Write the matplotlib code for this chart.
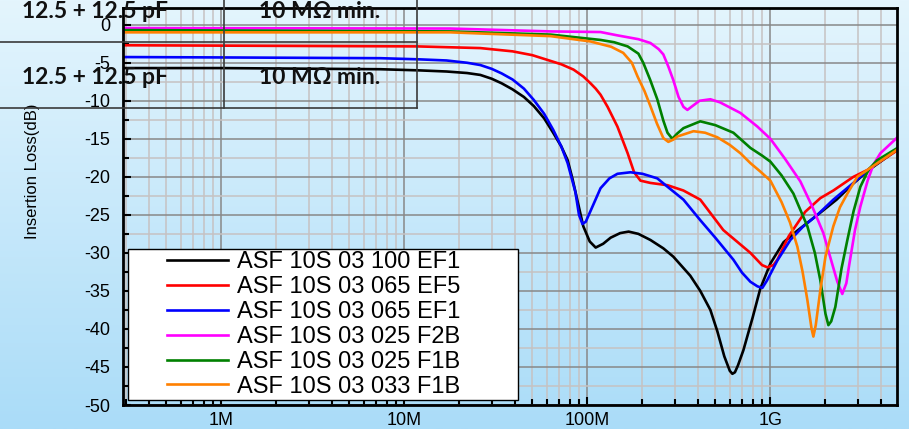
import numpy as np
import matplotlib
matplotlib.use("Agg")
import matplotlib.pyplot as plt
from matplotlib.colors import LinearSegmentedColormap
from matplotlib.lines import Line2D
from matplotlib.legend_handler import HandlerLine2D
from matplotlib.ticker import FixedLocator, NullFormatter, LogLocator

plt.rcParams['font.family'] = ['Liberation Sans', 'DejaVu Sans']
plt.rcParams['axes.unicode_minus'] = False

# frequency in MHz, insertion loss in dB
freq_100_ef1 = [0.29, 1, 7.4, 12, 17, 22, 26, 30, 34, 39, 45, 51, 58, 65, 72, 78, 83, 88, 95, 103,
                111, 122, 134, 151, 168, 190, 221, 260, 295, 365, 414, 470, 513, 560, 600, 620, 640,
                665, 712, 800, 881, 1000, 1180, 1400, 1810, 2300, 2800, 3500, 4950]
loss_100_ef1 = [-5.7, -5.7, -5.85, -6.0, -6.15, -6.35, -6.6, -7.1, -7.7, -8.5, -9.5, -10.7, -12.3,
                -14.2, -16.0, -17.8, -20.3, -23.0, -26.5, -28.5, -29.3, -28.8, -28.0, -27.4, -27.2,
                -27.5, -28.3, -29.4, -30.5, -33.0, -35.0, -37.5, -40.3, -43.6, -45.5, -45.9, -45.7,
                -44.8, -42.8, -38.5, -34.7, -31.4, -28.6, -27.1, -25.0, -23.0, -21.0, -19.0, -16.4]

freq_065_ef5 = [0.29, 1, 11.8, 26, 39, 50, 60, 72, 84, 95, 104, 111, 118, 129, 146, 166, 180, 195,
                221, 274, 335, 414, 553, 778, 900, 963, 1040, 1092, 1260, 1550, 1875, 2208, 2843,
                3388, 4950]
loss_065_ef5 = [-2.7, -2.75, -2.85, -3.07, -3.5, -4.0, -4.6, -5.2, -5.9, -6.8, -7.7, -8.4, -9.2,
                -10.8, -13.4, -16.9, -19.4, -20.5, -20.8, -21.1, -21.8, -23.0, -27.0, -30.0, -31.6,
                -31.9, -31.6, -30.9, -27.8, -24.6, -22.8, -21.8, -20.0, -19.1, -16.5]

freq_065_ef1 = [0.29, 1, 7.4, 12, 17, 22, 26, 30, 34, 39, 45, 51, 58, 65, 72, 78, 86, 90, 94, 98,
                104, 118, 132, 146, 172, 200, 241, 274, 335, 414, 500, 628, 700, 778, 850, 904, 960,
                1092, 1286, 1500, 1806, 2208, 2843, 3500, 4950]
loss_065_ef1 = [-4.25, -4.3, -4.4, -4.55, -4.7, -5.0, -5.3, -5.8, -6.4, -7.2, -8.4, -9.9, -11.7,
                -13.8, -16.0, -18.2, -22.0, -25.0, -26.2, -25.9, -24.5, -21.5, -20.2, -19.6, -19.4,
                -19.6, -20.2, -21.3, -23.0, -25.7, -28.0, -30.9, -32.6, -33.8, -34.4, -34.6, -33.6,
                -31.0, -28.3, -26.6, -25.0, -23.0, -20.8, -18.9, -16.3]

freq_025_f2b = [0.29, 17.8, 63, 118, 146, 190, 221, 245, 260, 277, 295, 315, 335, 352, 370, 410, 470,
                530, 686, 850, 1000, 1200, 1458, 1700, 1948, 2150, 2323, 2472, 2600, 2700, 2900,
                3103, 3400, 3654, 3992, 4950]
loss_025_f2b = [-0.44, -0.5, -0.88, -0.96, -1.4, -1.9, -2.4, -3.2, -3.9, -5.5, -7.3, -9.5, -10.8,
                -11.2, -10.8, -10.0, -9.8, -10.2, -11.6, -13.4, -15.0, -17.6, -20.6, -24.0, -27.4,
                -31.0, -33.8, -35.4, -34.0, -31.5, -27.0, -23.9, -20.5, -18.4, -16.9, -14.8]

freq_025_f1b = [0.29, 17.8, 63, 118, 140, 166, 190, 202, 220, 241, 260, 274, 291, 310, 335, 414, 500,
                628, 778, 900, 1000, 1150, 1336, 1593, 1750, 1875, 2000, 2075, 2150, 2265, 2450,
                2635, 2850, 3103, 3450, 3846, 4950]
loss_025_f1b = [-0.7, -0.88, -1.3, -2.0, -2.3, -2.85, -3.8, -5.0, -7.2, -9.8, -12.6, -14.2, -15.0,
                -14.3, -13.6, -12.7, -13.2, -14.2, -16.2, -17.2, -18.0, -19.8, -22.2, -26.5, -30.0,
                -33.6, -38.0, -39.5, -39.0, -37.1, -32.0, -28.3, -24.5, -21.3, -19.0, -17.8, -16.2]

freq_033_f1b = [0.29, 17.8, 63, 104, 135, 157, 175, 188, 205, 221, 240, 260, 277, 295, 310, 380, 440,
                513, 600, 686, 778, 881, 1000, 1150, 1280, 1405, 1500, 1593, 1680, 1718, 1770, 1875,
                2000, 2208, 2400, 2635, 2986, 3846, 4950]
loss_033_f1b = [-1.0, -1.0, -1.5, -2.2, -2.9, -3.7, -5.0, -6.8, -8.7, -10.7, -13.0, -14.9, -15.4,
                -15.1, -14.7, -14.0, -14.2, -14.8, -15.8, -16.9, -18.2, -19.3, -20.5, -23.3, -26.0,
                -29.2, -32.5, -36.2, -40.0, -41.0, -39.5, -34.9, -30.5, -26.5, -24.0, -22.2, -20.0,
                -18.2, -16.4]

series = [
    ("ASF 10S 03 100 EF1", freq_100_ef1, loss_100_ef1, "#000000"),
    ("ASF 10S 03 065 EF5", freq_065_ef5, loss_065_ef5, "#ff0000"),
    ("ASF 10S 03 065 EF1", freq_065_ef1, loss_065_ef1, "#0000ff"),
    ("ASF 10S 03 025 F2B", freq_025_f2b, loss_025_f2b, "#ff00ff"),
    ("ASF 10S 03 025 F1B", freq_025_f1b, loss_025_f1b, "#008000"),
    ("ASF 10S 03 033 F1B", freq_033_f1b, loss_033_f1b, "#ff8000"),
]

x_ticks = [1, 10, 100, 1000]
x_labels = ["1M", "10M", "100M", "1G"]
y_ticks = list(range(-50, 1, 5))

W, H = 909, 429
fig = plt.figure(figsize=(W / 100, H / 100), dpi=100)
fig.patch.set_facecolor("#c8ebfb")

# light blue vertical gradient behind everything
bg = fig.add_axes([0, 0, 1, 1], zorder=-10)
grad = np.linspace(0, 1, 256).reshape(-1, 1)
cmap = LinearSegmentedColormap.from_list("bg", ["#e4f5fd", "#aadcf8"])
bg.imshow(grad, aspect="auto", cmap=cmap, extent=[0, 1, 0, 1])
bg.axis("off")

ax = fig.add_axes([123 / W, 1 - 405 / H, 774 / W, 397 / H])
ax.set_facecolor("none")

for name, f, l, c in series:
    ax.plot(f, l, color=c, lw=1.9, label=name)

ax.set_xscale("log")
ax.set_xlim(0.29, 4920)
ax.set_ylim(-50, 2.2)
ax.xaxis.set_major_locator(FixedLocator(x_ticks))
ax.set_xticklabels(x_labels)
ax.xaxis.set_minor_locator(LogLocator(base=10, subs=range(2, 10)))
ax.xaxis.set_minor_formatter(NullFormatter())
ax.set_yticks(y_ticks)
ax.set_yticks(np.arange(-47.5, 0, 5), minor=True)

ax.set_axisbelow(True)
ax.grid(which="major", color="#888888", lw=1.1)
ax.grid(which="minor", color="#c6c2c2", lw=1.1)

for s in ax.spines.values():
    s.set_linewidth(2)
    s.set_color("black")

ax.tick_params(which="both", direction="in", width=1.5, colors="black", labelsize=13)
ax.tick_params(which="major", length=6)
ax.tick_params(which="minor", length=4)
ax.tick_params(axis="y", pad=9)
ax.tick_params(axis="x", pad=5)

ax.set_ylabel("Insertion Loss(dB)", fontsize=12)
ax.yaxis.set_label_coords(-0.107, 0.59)

fs = 17 * 100 / 72
bp = 0.1
leg = ax.legend(loc="lower left", bbox_to_anchor=(0.0065, 0.0126, 0.504, 0.386), mode="expand",
                fontsize=17, frameon=True, fancybox=False, framealpha=1, edgecolor="black",
                borderaxespad=0, borderpad=bp, labelspacing=0.12,
                handlelength=100 / fs - bp, handletextpad=9 / fs,
                handler_map={Line2D: HandlerLine2D(xpad=39 / fs - bp)})
leg.get_frame().set_linewidth(1.0)

# overlapping table fragment at the top left
tbl = dict(color="#3a3a3a", lw=1.2, transform=fig.transFigure)
for y in (42, 108):
    fig.add_artist(Line2D([0, 417 / W], [1 - y / H, 1 - y / H], **tbl))
for x in (224, 417):
    fig.add_artist(Line2D([x / W, x / W], [1, 1 - 108 / H], **tbl))
for y in (11, 78):
    fig.text(22 / W, 1 - y / H, "12.5 + 12.5 pF", fontsize=16.5, fontweight="bold",
             family="Lato", color="#111111", ha="left", va="center")
    fig.text(320 / W, 1 - y / H, "10 M\u03a9 min.", fontsize=16.5, fontweight="bold",
             family="Lato", color="#111111", ha="center", va="center")

fig.savefig("out.png", dpi=100)
